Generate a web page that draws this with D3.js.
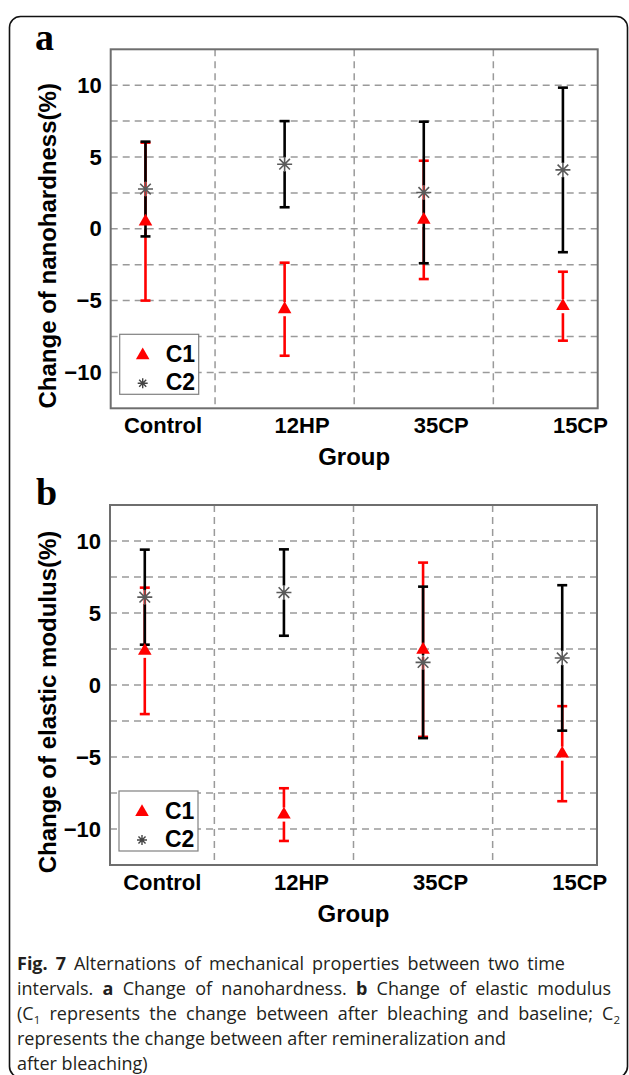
<!DOCTYPE html>
<html>
<head>
<meta charset="utf-8">
<script src="https://cdn.jsdelivr.net/npm/d3@7"></script>
<style>
  html, body { margin: 0; padding: 0; background: #fff; }
  svg { display: block; }
</style>
</head>
<body>
<svg id="chart" width="629" height="1075"></svg>
<script>
// ---------------- data ----------------
const categories = ["Control", "12HP", "35CP", "15CP"];
const seriesNames = ["C1", "C2"];
const yTickValues = [-10, -5, 0, 5, 10];
const yGridValues = [-10, -7.5, -5, -2.5, 0, 2.5, 5, 7.5, 10];

// (a) change of nanohardness (%)
const hardnessC1Mean = [0.5, -5.6, 0.62, -5.39];
const hardnessC1Err  = [5.5, 3.24, 4.12, 2.4];
const hardnessC2Mean = [2.77, 4.5, 2.53, 4.1];
const hardnessC2Err  = [3.3, 3.0, 4.93, 5.73];

// (b) change of elastic modulus (%)
const modulusC1Mean = [2.37, -9.0, 2.45, -4.77];
const modulusC1Err  = [4.39, 1.83, 6.05, 3.3];
const modulusC2Mean = [6.1, 6.42, 1.57, 1.88];
const modulusC2Err  = [3.3, 3.0, 5.26, 5.05];

const xTitle = "Group";
const panelTitles = ["Change of nanohardness(%)", "Change of elastic modulus(%)"];
const panelLetters = ["a", "b"];

// ---------------- drawing ----------------
const svg = d3.select("#chart");
const SANS = "'Liberation Sans', Arial, sans-serif";
const RED = "#ff0000";

// outer rounded frame
svg.append("rect")
  .attr("x", 9.5).attr("y", 16.5)
  .attr("width", 618).attr("height", 1061)
  .attr("rx", 11).attr("ry", 11)
  .attr("fill", "none").attr("stroke", "#111").attr("stroke-width", 1.6);

function starPath(cx, cy, r) {
  const d = r * Math.SQRT1_2;
  return `M${cx - r},${cy}L${cx + r},${cy}M${cx},${cy - r}L${cx},${cy + r}` +
         `M${cx - d},${cy - d}L${cx + d},${cy + d}M${cx - d},${cy + d}L${cx + d},${cy - d}`;
}

function drawPanel(cfg) {
  const g = svg.append("g");
  const x = d3.scaleLinear().domain([0.75, 4.25]).range([cfg.left, cfg.right]);
  const y = d3.scaleLinear().domain([-12.5, 12.5]).range([cfg.bottom, cfg.top]);

  // panel letter
  g.append("text")
    .attr("x", cfg.letterX).attr("y", cfg.letterY)
    .attr("font-family", "'Liberation Serif', 'Times New Roman', serif")
    .attr("font-weight", "bold").attr("font-size", 38)
    .text(cfg.letter);

  // grid
  const grid = g.append("g").attr("stroke", "#9a9a9a").attr("stroke-width", 1.5)
    .attr("stroke-dasharray", "7,5").attr("fill", "none");
  grid.selectAll("line.h").data(yGridValues).join("line")
    .attr("x1", cfg.left).attr("x2", cfg.right)
    .attr("y1", d => y(d)).attr("y2", d => y(d));
  grid.selectAll("line.v").data([1.5, 2.5, 3.5]).join("line")
    .attr("y1", cfg.top).attr("y2", cfg.bottom)
    .attr("x1", d => x(d)).attr("x2", d => x(d));

  // y axis labels
  const yAxis = d3.axisLeft(y).tickValues(yTickValues).tickSize(0).tickPadding(9)
    .tickFormat(d3.format("d"));
  const ya = g.append("g").attr("transform", `translate(${cfg.left},0)`).call(yAxis);
  ya.select(".domain").remove();
  ya.selectAll("text").attr("font-family", SANS).attr("font-weight", "bold")
    .attr("font-size", 22).attr("fill", "#000");

  // x axis category labels
  const xAxis = d3.axisBottom(x).tickValues([1, 2, 3, 4]).tickSize(0).tickPadding(0)
    .tickFormat((d, i) => categories[i]);
  const xa = g.append("g").attr("transform", `translate(0,${cfg.bottom})`).call(xAxis);
  xa.select(".domain").remove();
  xa.selectAll("text").attr("font-family", SANS).attr("font-weight", "bold")
    .attr("font-size", 22).attr("fill", "#000")
    .attr("dy", null).attr("y", 25).attr("dx", 17);

  // titles
  g.append("text")
    .attr("x", (cfg.left + cfg.right) / 2).attr("y", cfg.bottom + 57)
    .attr("text-anchor", "middle").attr("font-family", SANS).attr("font-weight", "bold")
    .attr("font-size", 24).text(xTitle);
  g.append("text")
    .attr("transform", `translate(${cfg.yTitleX},${(cfg.top + cfg.bottom) / 2 + 17}) rotate(-90)`)
    .attr("text-anchor", "middle").attr("font-family", SANS).attr("font-weight", "bold")
    .attr("font-size", 24).text(cfg.title);

  // error bars (drawn from marker edge, Origin style)
  const gap = 7, cap = 5;
  function errorBars(mean, err, color) {
    const eb = g.append("g").attr("stroke", color).attr("stroke-width", 2.6).attr("fill", "none");
    mean.forEach((m, i) => {
      const cx = x(i + 1), cy = y(m), t = y(m + err[i]), b = y(m - err[i]);
      eb.append("line").attr("x1", cx).attr("x2", cx).attr("y1", t).attr("y2", cy - gap);
      eb.append("line").attr("x1", cx).attr("x2", cx).attr("y1", cy + gap).attr("y2", b);
      eb.append("line").attr("x1", cx - cap).attr("x2", cx + cap).attr("y1", t).attr("y2", t);
      eb.append("line").attr("x1", cx - cap).attr("x2", cx + cap).attr("y1", b).attr("y2", b);
    });
  }
  errorBars(cfg.c1Mean, cfg.c1Err, RED);
  errorBars(cfg.c2Mean, cfg.c2Err, "#000");

  const tri = d3.symbol(d3.symbolTriangle, 80);
  g.append("g").selectAll("path").data(cfg.c1Mean).join("path")
    .attr("d", tri).attr("fill", RED)
    .attr("transform", (d, i) => `translate(${x(i + 1)},${y(d)})`);
  g.append("g").selectAll("path").data(cfg.c2Mean).join("path")
    .attr("d", (d, i) => starPath(x(i + 1), y(d), 7.5))
    .attr("stroke", "#5a5a5a").attr("stroke-width", 1.6).attr("fill", "none");

  // plot frame
  g.append("rect")
    .attr("x", cfg.left).attr("y", cfg.top)
    .attr("width", cfg.right - cfg.left).attr("height", cfg.bottom - cfg.top)
    .attr("fill", "none").attr("stroke", "#6e6e6e").attr("stroke-width", 2);

  // legend
  const lx = cfg.left + 9, ly = cfg.bottom - 14 - 60;
  const lg = g.append("g");
  lg.append("rect").attr("x", lx).attr("y", ly).attr("width", 79).attr("height", 60)
    .attr("fill", "#fff").attr("stroke", "#808080").attr("stroke-width", 1.2);
  lg.append("path").attr("d", tri).attr("fill", RED)
    .attr("transform", `translate(${lx + 23},${ly + 21})`);
  lg.append("path").attr("d", starPath(lx + 23, ly + 49, 5))
    .attr("stroke", "#444").attr("stroke-width", 1.4).attr("fill", "none");
  lg.selectAll("text").data(seriesNames).join("text")
    .attr("x", lx + 46).attr("y", (d, i) => ly + 28 + i * 28)
    .attr("font-family", SANS).attr("font-weight", "bold").attr("font-size", 23)
    .text(d => d);
}

drawPanel({
  left: 110.7, right: 597.7, top: 49.3, bottom: 408.3,
  letter: panelLetters[0], letterX: 35, letterY: 50, yTitleX: 56,
  title: panelTitles[0],
  c1Mean: hardnessC1Mean, c1Err: hardnessC1Err, c2Mean: hardnessC2Mean, c2Err: hardnessC2Err
});
drawPanel({
  left: 110, right: 597, top: 505, bottom: 865,
  letter: panelLetters[1], letterX: 36, letterY: 505, yTitleX: 56,
  title: panelTitles[1],
  c1Mean: modulusC1Mean, c1Err: modulusC1Err, c2Mean: modulusC2Mean, c2Err: modulusC2Err
});

// caption (justified lines use extra word spacing)
const CAP = "'Open Sans', 'Noto Sans', sans-serif";
const capLines = [
  [["b", "Fig. 7"], ["n", " Alternations of mechanical properties between two time"]],
  [["n", "intervals. "], ["b", "a"], ["n", " Change of nanohardness. "], ["b", "b"], ["n", " Change of elastic modulus"]],
  [["n", "(C"], ["s", "1"], ["n", " represents the change between after bleaching and baseline; C"], ["s", "2"]],
  [["n", "represents the change between after remineralization and"]],
  [["n", "after bleaching)"]]
];
const capWidths = [548, 594, 603, null, null];
const cap = svg.append("g").attr("font-family", CAP).attr("font-size", 18).attr("fill", "#231f20");
capLines.forEach((parts, li) => {
  const t = cap.append("text").attr("x", 17).attr("y", 970 + li * 25);
  parts.forEach(([k, s]) => {
    const ts = t.append("tspan").text(s);
    if (k === "b") ts.attr("font-weight", "bold");
    if (k === "s") ts.attr("font-size", 11.5).attr("baseline-shift", "-4");
  });
  if (capWidths[li]) {
    const w = t.node().getComputedTextLength();
    const spaces = parts.map(p => p[1]).join("").split(" ").length - 1;
    if (spaces > 0 && w < capWidths[li]) {
      t.attr("word-spacing", (capWidths[li] - w) / spaces);
    } else if (w > capWidths[li]) {
      t.attr("textLength", capWidths[li]).attr("lengthAdjust", "spacing");
    }
  }
});
</script>
</body>
</html>
